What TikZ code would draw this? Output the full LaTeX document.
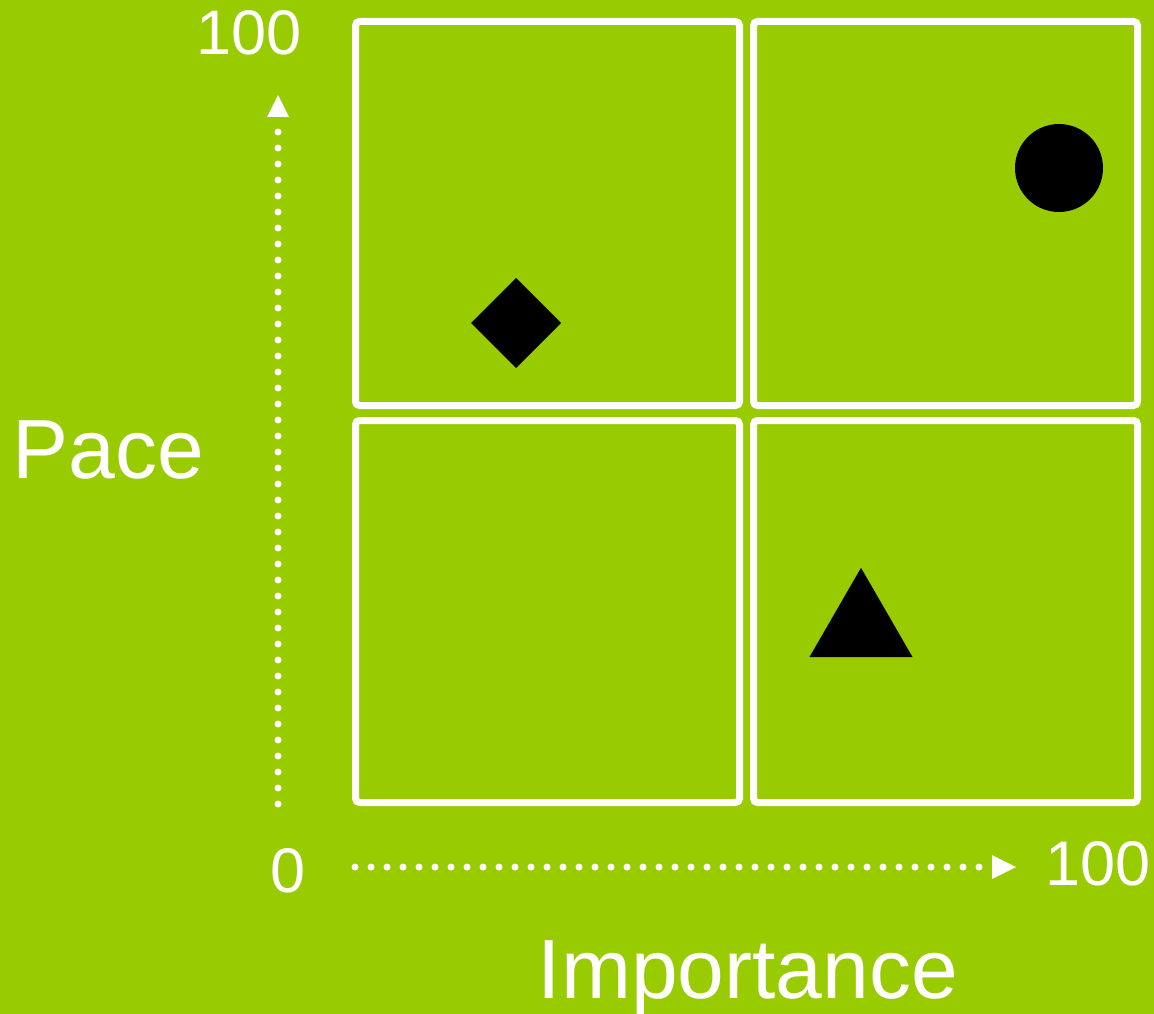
\documentclass[tikz,border=0pt]{standalone}
\usepackage{fontspec}
\setmainfont{Liberation Sans}
\usetikzlibrary{shapes.geometric,arrows.meta}
\definecolor{bg}{RGB}{153,204,0}
\begin{document}
\begin{tikzpicture}[x=1pt,y=-1pt,
  quad/.style={draw=white,line width=7pt,rounded corners=4pt,rectangle,minimum width=384pt,inner sep=0pt,outer sep=0pt},
  lbl/.style={text=white,inner sep=0pt,anchor=base},
  axis/.style={white,line width=7pt,line cap=round,dash pattern=on 0pt off 16pt},
  glyph/.style={fill=black,inner sep=0pt,outer sep=0pt}]
\fill[bg] (0,0) rectangle (1154,1014);
\useasboundingbox (0,0) rectangle (1154,1014);
\node[quad,minimum height=384pt] (tl) at (547.5,213.5) {};
\node[quad,minimum height=384pt] (tr) at (945.5,213.5) {};
\node[quad,minimum height=382pt] (bl) at (547.5,611.5) {};
\node[quad,minimum height=382pt] (br) at (945.5,611.5) {};
\node[glyph,diamond,minimum size=90pt] (dia) at (516,323) {};
\node[glyph,circle,minimum size=88pt] (cir) at (1059,168) {};
\node[glyph,regular polygon,regular polygon sides=3,minimum size=119pt] (tri) at (861,627.3) {};
\coordinate (ys) at (278,804);
\coordinate (ye) at (278,95);
\coordinate (xs) at (355,867);
\coordinate (xe) at (1016,867);
\draw[axis,-{Triangle[length=22pt,width=22pt,line width=0pt,sep=0pt]}] (ys) -- (ye);
\draw[axis,-{Triangle[length=24pt,width=24pt,line width=0pt,sep=0pt]}] (xs) -- (xe);
\node[lbl,font=\fontsize{63}{63}\selectfont] (ymax) at (249,55) {100};
\node[lbl,font=\fontsize{63}{63}\selectfont] (xmax) at (1098,885) {100};
\node[lbl,font=\fontsize{63}{63}\selectfont] (zero) at (288,892) {0};
\node[lbl,font=\fontsize{84}{84}\selectfont] (pace) at (108,478) {Pace};
\node[lbl,font=\fontsize{84}{84}\selectfont] (imp) at (748,998) {Importance};
\end{tikzpicture}
\end{document}
